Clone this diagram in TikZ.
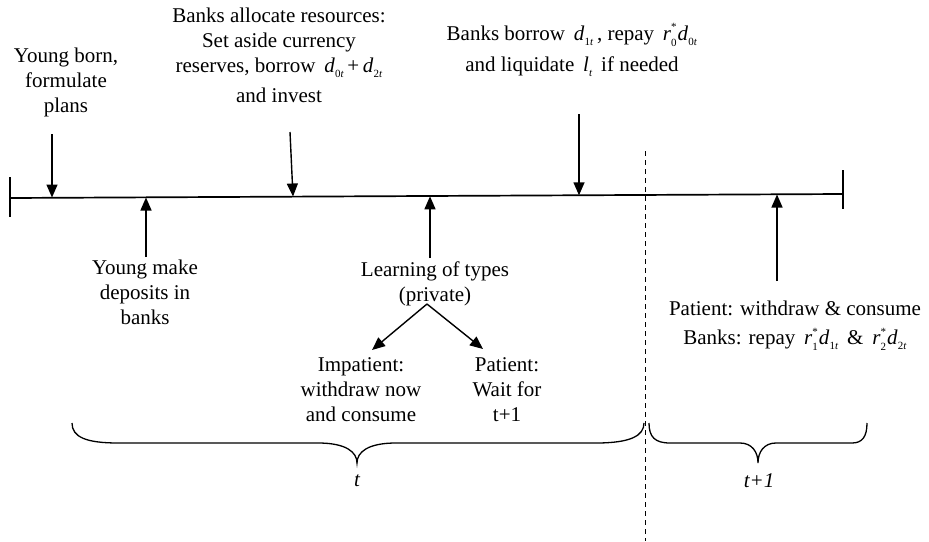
\documentclass[tikz,border=0pt]{standalone}
\usepackage{fontspec}
\setmainfont{Liberation Serif}
\usetikzlibrary{arrows.meta}
\newcommand{\ssz}{\fontsize{11}{11}\selectfont}
\newcommand{\vsub}[2]{\textit{#1}\kern0.3pt\raisebox{-0.5ex}{\ssz #2}}
\newcommand{\vsubsup}[3]{\textit{#1}\rlap{\raisebox{1.0ex}{\ssz #3}}\raisebox{-0.6ex}{\ssz #2}}
\begin{document}
\begin{tikzpicture}[x=1pt,y=-1pt,
  txt/.style={font=\fontsize{21}{25}\selectfont, align=center, inner sep=0pt},
  arr/.style={line width=1.4pt,-{Triangle[length=13pt,width=11pt]}},
  brc/.style={line width=1.3pt},
  tl/.style={line width=1.7pt}]
\useasboundingbox (0,0) rectangle (929,541);
% timeline
\coordinate (L) at (10,198);
\coordinate (R) at (843,194);
\coordinate (Lt) at (10,177); \coordinate (Lb) at (10,217);
\coordinate (Rt) at (843,170); \coordinate (Rb) at (843,209);
\draw[tl] (L) -- (R);
\draw[line width=1.3pt] (Lt) -- (Lb);
\draw[line width=1.3pt] (Rt) -- (Rb);
% dashed separator
\coordinate (Dt) at (645,151); \coordinate (Db) at (645,541);
\draw[line width=1pt, dash pattern=on 5pt off 4pt] (Dt) -- (Db);
% top texts
\node[txt] (yb) at (66,82) {Young born,\\formulate\\plans};
\node[txt] (ba) at (279,55) {Banks allocate resources:\\Set aside currency\\reserves, borrow \,\vsub{d}{0\textit{t}}\,+\,\vsub{d}{2\textit{t}}\\[5pt]and invest};
\node[txt] (bb) at (572,50) {Banks borrow \,\vsub{d}{1\textit{t}}\,, repay \,\vsubsup{r}{0}{*}\kern1pt\vsub{d}{0\textit{t}}\\[6pt]and liquidate \,\vsub{l}{\textit{t}}\, if needed};
% bottom texts
\node[txt] (ym) at (145,292) {Young make\\deposits in\\banks};
\node[txt] (lt) at (435,284) {Learning of types\\(private)};
\node[txt] (imp) at (361,390) {Impatient:\\withdraw now\\and consume};
\node[txt] (pat) at (507,390) {Patient:\\Wait for\\t+1};
\node[txt] (pw) at (795,326) {Patient: withdraw \& consume\\[4pt]Banks: repay \,\vsubsup{r}{1}{*}\kern1pt\vsub{d}{1\textit{t}} \,\&\, \vsubsup{r}{2}{*}\kern1pt\vsub{d}{2\textit{t}}};
\node[txt, font=\fontsize{21}{25}\selectfont\itshape] (tlab) at (357,481) {t};
\node[txt, font=\fontsize{21}{25}\selectfont\itshape] (t1lab) at (759,481) {t+1};
% down arrows
\coordinate (a1s) at (52,134);  \coordinate (a1e) at (52,197.5);
\coordinate (a2s) at (290,132); \coordinate (a2e) at (293,196.5);
\coordinate (a3s) at (579,114); \coordinate (a3e) at (579,195.3);
\draw[arr] (a1s) -- (a1e);
\draw[arr] (a2s) -- (a2e);
\draw[arr] (a3s) -- (a3e);
% up arrows
\coordinate (u1s) at (146,257); \coordinate (u1e) at (146,197.5);
\coordinate (u2s) at (430,258); \coordinate (u2e) at (430,196.3);
\coordinate (u3s) at (777,281); \coordinate (u3e) at (777,194.5);
\draw[arr] (u1s) -- (u1e);
\draw[arr] (u2s) -- (u2e);
\draw[arr] (u3s) -- (u3e);
% branch arrows
\coordinate (br) at (427,304);
\coordinate (bl) at (372,350);
\coordinate (brr) at (483,349);
\draw[arr] (br) -- (bl);
\draw[arr] (br) -- (brr);
% braces
\draw[brc] (72,423) .. controls (72,437) and (86,443) .. (118,443)
  -- (318,443) .. controls (346,443) and (357,452) .. (357,463)
  .. controls (357,452) and (368,443) .. (396,443)
  -- (596,443) .. controls (630,443) and (644,436) .. (644,423);
\draw[brc] (649,423) .. controls (649,437) and (655,443) .. (670,443)
  -- (740,443) .. controls (752,443) and (758,452) .. (758,463)
  .. controls (758,452) and (764,443) .. (776,443)
  -- (852,443) .. controls (862,443) and (867,437) .. (867,423);
\end{tikzpicture}
\end{document}
